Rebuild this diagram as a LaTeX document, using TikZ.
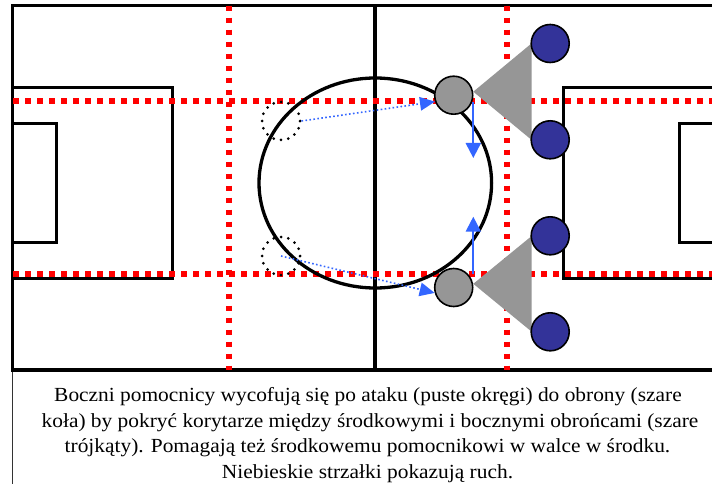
\documentclass[tikz,border=0pt]{standalone}
\usepackage{fontspec}
\setmainfont{Liberation Serif}[FakeStretch=1.07]
\usetikzlibrary{arrows.meta}
\definecolor{redline}{RGB}{255,0,0}
\definecolor{bluemove}{RGB}{51,102,255}
\definecolor{greyfill}{RGB}{150,150,150}
\definecolor{navy}{RGB}{51,51,153}
\tikzset{
  fieldline/.style={draw=black, line width=3.1pt},
  boxline/.style={draw=black, line width=3pt},
  reddots/.style={draw=redline, line width=5.8pt, dash pattern=on 5.2pt off 6.8pt},
  greyplayer/.style={circle, draw=black, line width=1.6pt, fill=greyfill, minimum size=38pt, inner sep=0pt},
  blueplayer/.style={circle, draw=black, line width=1.6pt, fill=navy, minimum size=38pt, inner sep=0pt},
  emptyplayer/.style={circle, draw=black, line width=3pt, dash pattern=on 0pt off 7.45pt, line cap=round, minimum size=38pt, inner sep=0pt},
  corridor/.style={fill=greyfill, draw=none},
  runarrow/.style={draw=bluemove, line width=1.6pt, dash pattern=on 1.6pt off 2.4pt, -{Triangle[length=15pt,width=13.5pt]}},
  shiftarrow/.style={draw=bluemove, line width=2pt, -{Triangle[length=15pt,width=15pt]}},
  captext/.style={anchor=base, inner sep=0pt, font=\fontsize{20}{24}\selectfont}
}
\begin{document}
\begin{tikzpicture}[x=1pt, y=-1pt]
\useasboundingbox (0,0) rectangle (712,484);
\fill[white] (0,0) rectangle (712,484);
% caption box
\draw[line width=1.2pt, draw=black!80] (12.3,370) -- (12.3,490);
% field
\draw[fieldline] (12.3,5.7) rectangle (745,370);
\draw[fieldline] (375,5.7) -- (375,370);
\draw[boxline] (12.3,87.3) rectangle (172,278.5);
\draw[boxline] (12.3,123.7) rectangle (56,242);
\draw[boxline] (745,87.3) -- (563.7,87.3) -- (563.7,278.5) -- (745,278.5);
\draw[boxline] (745,123.7) -- (679.3,123.7) -- (679.3,242) -- (745,242);
% corridor grid
\draw[reddots] (13.3,101.2) -- (745,101.2);
\draw[reddots] (13.3,274.3) -- (745,274.3);
\draw[reddots] (229,5.7) -- (229,370);
\draw[reddots] (506.8,5.7) -- (506.8,370);
% centre circle
\draw[line width=3.3pt] (375.3,183) ellipse [x radius=116.3pt, y radius=105pt];
% defenders' corridors
\fill[corridor] (473.3,91.7) -- (531.7,43.3) -- (531.7,140) -- cycle;
\fill[corridor] (473.3,283.8) -- (531.7,236) -- (531.7,331.7) -- cycle;
% players
\node[blueplayer] (bc1) at (550.2,43.5) {};
\node[blueplayer] (bc2) at (550.2,139.8) {};
\node[blueplayer] (bc3) at (550.2,235.8) {};
\node[blueplayer] (bc4) at (550.2,331.8) {};
\node[greyplayer] (gc1) at (453.7,95.2) {};
\node[greyplayer] (gc2) at (453.7,287.5) {};
\node[emptyplayer] (dc1) at (281,121) {};
\node[emptyplayer] (dc2) at (281,256) {};
% movements
\draw[runarrow] (dc1.east) -- (gc1.199);
\draw[runarrow] (dc2.center) -- (gc2.196);
\coordinate (m1) at (473.3,158);
\coordinate (m2) at (473.3,216.7);
\draw[shiftarrow] (gc1.-20 -| m1) -- (m1);
\draw[shiftarrow] (gc2.north east -| m2) -- (m2);
% caption
\node[captext] (cap1) at (368,401) {Boczni pomocnicy wycofują się po ataku (puste okręgi) do obrony (szare};
\node[captext] (cap2) at (370,427) {koła) by pokryć korytarze między środkowymi i bocznymi obrońcami (szare};
\node[captext] (cap3) at (367.5,452.5) {trójkąty). Pomagają też środkowemu pomocnikowi w walce w środku.};
\node[captext] (cap4) at (367.5,478.5) {Niebieskie strzałki pokazują ruch.};
\end{tikzpicture}
\end{document}
